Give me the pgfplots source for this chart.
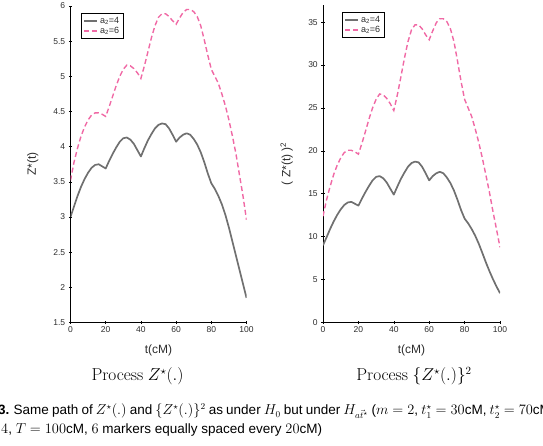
\documentclass[border=0pt]{standalone}
\usepackage[no-math]{fontspec}
\setmainfont{Liberation Sans}
\usepackage{pgfplots}
\usepackage{pgfplotstable}
\pgfplotsset{compat=1.18}
\definecolor{zgray}{RGB}{112,112,112}
\definecolor{zpink}{RGB}{240,105,165}
\definecolor{txt}{RGB}{45,45,45}

% Z*(t) for a2=4 (g) and a2=6 (p)
\pgfplotstableread{
x g p
0 3.00 3.52
2 3.15 3.78
4 3.30 3.98
6 3.43 4.15
8 3.54 4.28
10 3.63 4.38
12 3.70 4.45
14 3.74 4.48
16 3.75 4.48
18 3.72 4.46
20 3.69 4.43
22 3.80 4.57
24 3.90 4.72
26 3.99 4.87
28 4.07 5.00
30 4.12 5.10
32 4.13 5.16
34 4.10 5.15
36 4.04 5.11
38 3.95 5.05
40 3.86 4.97
42 3.98 5.15
44 4.09 5.35
46 4.18 5.55
48 4.26 5.72
50 4.31 5.84
52 4.33 5.89
54 4.32 5.89
56 4.26 5.85
58 4.17 5.79
60 4.07 5.74
62 4.13 5.83
64 4.17 5.91
66 4.19 5.95
68 4.17 5.95
70 4.11 5.92
72 4.03 5.85
74 3.92 5.72
76 3.78 5.52
78 3.62 5.30
80 3.48 5.10
82 3.40 5.00
84 3.30 4.90
86 3.18 4.75
88 3.03 4.58
90 2.85 4.38
92 2.65 4.15
94 2.45 3.90
96 2.25 3.60
98 2.05 3.30
100 1.85 2.96
}\zdata

% {Z*(t)}^2 for a2=4 (g) and a2=6 (p)
\pgfplotstableread{
x g p
0 9.00 12.39
2 9.92 14.29
4 10.89 15.84
6 11.76 17.22
8 12.53 18.32
10 13.18 19.18
12 13.69 19.80
14 13.99 20.07
16 14.06 20.07
18 13.84 19.89
20 13.62 19.62
22 14.44 20.88
24 15.21 22.28
26 15.92 23.72
28 16.56 25.00
30 16.97 26.01
32 17.06 26.63
34 16.81 26.52
36 16.32 26.11
38 15.60 25.50
40 14.90 24.70
42 15.84 26.52
44 16.73 28.62
46 17.47 30.80
48 18.15 32.72
50 18.58 34.11
52 18.75 34.69
54 18.66 34.69
56 18.15 34.22
58 17.39 33.52
60 16.56 32.95
62 17.06 33.99
64 17.39 34.93
66 17.56 35.40
68 17.39 35.40
70 16.89 35.05
72 16.24 34.22
74 15.37 32.72
76 14.29 30.47
78 13.10 28.09
80 12.11 26.01
82 11.56 25.00
84 10.89 24.01
86 10.11 22.56
88 9.18 20.98
90 8.12 19.18
92 7.02 17.22
94 6.00 15.21
96 5.06 12.96
98 4.20 10.89
100 3.42 8.76
}\zsqdata

\pgfplotsset{
  zstyle/.style={
    scale only axis,
    axis x line*=bottom, axis y line*=left,
    axis line style={black, line width=0.6pt},
    tick align=center, major tick length=3.5pt,
    tick style={black, line width=0.6pt},
    xmin=0, xmax=100, xtick={0,20,...,100},
    /pgf/number format/assume math mode=true,
    tick label style={font=\fontsize{8.5}{9}\selectfont, text=txt},
    xticklabel style={yshift=1pt},
    label style={font=\fontsize{12}{13}\selectfont, text=txt},
    xlabel style={at={(axis description cs:0.5,0)}, anchor=base, yshift=-31pt},
    legend style={anchor=north west, draw=black, line width=0.8pt,
      font=\fontsize{9}{10}\selectfont, text=txt, inner xsep=2pt, inner ysep=1.5pt,
      row sep=-1.5pt},
    legend cell align=left,
    legend image code/.code={\draw[##1] (0pt,0pt) -- (13pt,0pt);},
  },
  gline/.style={color=zgray, line width=1.7pt, line join=round},
  pline/.style={color=zpink, line width=1.4pt, dash pattern=on 5pt off 3pt},
}

\begin{document}
\begin{tikzpicture}[x=1pt,y=1pt]
\useasboundingbox (0,0) rectangle (543,446);

\begin{axis}[zstyle,
  at={(70.5pt,123.5pt)}, anchor=south west,
  width=176pt, height=316.5pt,
  ymin=1.5, ymax=6, ytick={1.5,2,...,6},
  yticklabel style={/pgf/number format/fixed},
  xlabel={t(cM)}, ylabel={Z*(t)},
  ylabel style={at={(axis description cs:-0.215,0.5)}, anchor=center},
  legend style={at={(axis description cs:0,1)}, xshift=10.5pt, yshift=-7pt},
]
\addplot[gline] table[x=x,y=g]{\zdata};
\addlegendentry{a\textsubscript{2}=4}
\addplot[pline] table[x=x,y=p]{\zdata};
\addlegendentry{a\textsubscript{2}=6}
\end{axis}

\begin{axis}[zstyle,
  at={(323pt,123.5pt)}, anchor=south west,
  width=177pt, height=317.5pt,
  ymin=0, ymax=37, ytick={0,5,...,35},
  xlabel={t(cM)}, ylabel={( Z*(t) )\textsuperscript{2}},
  ylabel style={at={(axis description cs:-0.205,0.5)}, anchor=center},
  legend style={at={(axis description cs:0,1)}, xshift=19pt, yshift=-7pt},
]
\addplot[gline] table[x=x,y=g]{\zsqdata};
\addlegendentry{a\textsubscript{2}=4}
\addplot[pline] table[x=x,y=p]{\zsqdata};
\addlegendentry{a\textsubscript{2}=6}
\end{axis}

\node[anchor=base, font=\fontsize{16}{18}\selectfont, inner sep=0pt] at (137.5,65) {$\mathrm{Process}\ Z^\star(.)$};
\node[anchor=base, font=\fontsize{16}{18}\selectfont, inner sep=0pt] at (414,65) {$\mathrm{Process}\ \{Z^\star(.)\}^2$};

\node[anchor=base east, font=\fontsize{13.5}{15}\selectfont, inner sep=0pt] at (9.5,31) {\textbf{Figure 3.}};
\node[anchor=base west, font=\fontsize{13.5}{15}\selectfont, inner sep=0pt] at (13.5,31)
  {\makebox[541pt][s]{Same path of $Z^\star(.)$ and $\{Z^\star(.)\}^2$ as under $H_0$ but under $H_{a\vec{t}^\star}$ ($m=2$, $t_1^\star=30$cM, $t_2^\star=70$cM,}};
\node[anchor=base west, font=\fontsize{13.5}{15}\selectfont, inner sep=0pt] at (1,12.5)
  {$4$, $T=100$cM, $6$ markers equally spaced every $20$cM)};
\end{tikzpicture}
\end{document}
